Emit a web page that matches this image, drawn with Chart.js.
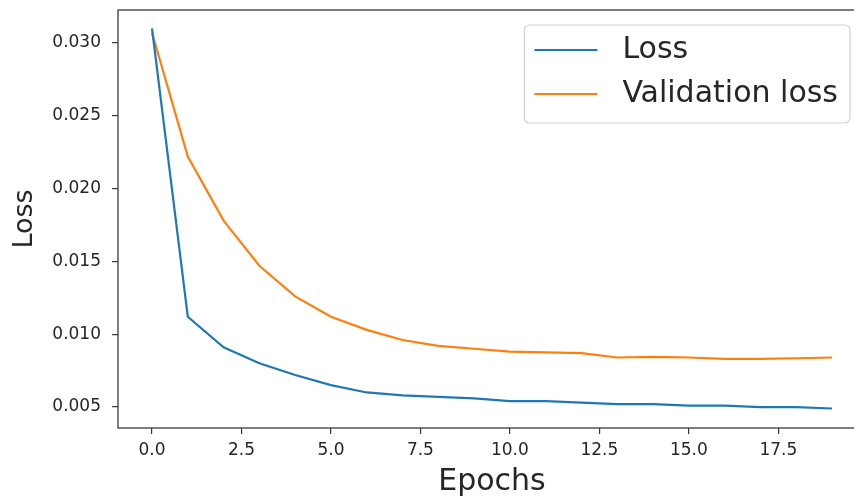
<!DOCTYPE html>
<html lang="en">
<head>
    <meta charset="UTF-8">
    <title>Loss vs validation loss</title>
    <script src="https://cdn.jsdelivr.net/npm/chart.js"></script>
    <style>
        html, body {
            margin: 0;
            padding: 0;
            overflow: hidden;
            background: #ffffff;
        }
        .plot-wrap {
            width: 854px;
            height: 497px;
            overflow: hidden;
        }
        #lossChart {
            display: block;
        }
    </style>
</head>
<body>
    <div class="plot-wrap">
        <canvas id="lossChart" width="880" height="497"></canvas>
    </div>
    <script>
        const epochs = [0, 1, 2, 3, 4, 5, 6, 7, 8, 9, 10, 11, 12, 13, 14, 15, 16, 17, 18, 19];
        const lossValues = [0.0310, 0.0112, 0.0091, 0.0080, 0.0072, 0.0065, 0.0060, 0.0058, 0.0057, 0.0056,
                            0.0054, 0.0054, 0.0053, 0.0052, 0.0052, 0.0051, 0.0051, 0.0050, 0.0050, 0.0049];
        const valLossValues = [0.0307, 0.0222, 0.0178, 0.0147, 0.0126, 0.0112, 0.0103, 0.0096, 0.0092, 0.0090,
                               0.0088, 0.00875, 0.0087, 0.0084, 0.00845, 0.0084, 0.0083, 0.0083, 0.00835, 0.0084];
        const xTicks = [0, 2.5, 5, 7.5, 10, 12.5, 15, 17.5];
        const yTicks = [0.005, 0.010, 0.015, 0.020, 0.025, 0.030];

        const textColor = '#262626';
        const spineColor = '#3a3a3a';
        const font = '"DejaVu Sans", sans-serif';

        // legend box in the upper right corner of the plot
        const boxLegend = {
            id: 'boxLegend',
            afterDatasetsDraw(chart) {
                const {ctx, chartArea} = chart;
                const rows = chart.data.datasets.map(ds => ({label: ds.label, color: ds.borderColor}));
                ctx.save();
                ctx.font = '30px ' + font;
                const textW = Math.max(...rows.map(r => ctx.measureText(r.label).width));
                const pad = 10, handle = 63, gap = 25, rowH = 44;
                const w = pad + handle + gap + textW + 12;
                const h = rows.length * rowH + 10;
                const right = chartArea.right - 16;
                const left = right - w;
                const top = chartArea.top + 15;

                ctx.fillStyle = 'rgba(255,255,255,0.8)';
                ctx.strokeStyle = '#d2d2d2';
                ctx.lineWidth = 1.2;
                ctx.beginPath();
                ctx.roundRect(left, top, w, h, 5);
                ctx.fill();
                ctx.stroke();

                rows.forEach((r, i) => {
                    const y = top + 25 + i * rowH;
                    ctx.strokeStyle = r.color;
                    ctx.lineWidth = 2.2;
                    ctx.beginPath();
                    ctx.moveTo(left + pad, y);
                    ctx.lineTo(left + pad + handle, y);
                    ctx.stroke();
                    ctx.fillStyle = textColor;
                    ctx.textBaseline = 'middle';
                    ctx.textAlign = 'left';
                    ctx.fillText(r.label, left + pad + handle + gap, y);
                });
                ctx.restore();
            }
        };

        // frame around the plot area
        const frame = {
            id: 'frame',
            afterDraw(chart) {
                const {ctx, chartArea} = chart;
                ctx.save();
                ctx.strokeStyle = spineColor;
                ctx.lineWidth = 1.3;
                ctx.strokeRect(chartArea.left, chartArea.top,
                    chartArea.right - chartArea.left, chartArea.bottom - chartArea.top);
                ctx.restore();
            }
        };

        new Chart(document.getElementById('lossChart'), {
            type: 'line',
            data: {
                datasets: [
                    {
                        label: 'Loss',
                        data: epochs.map((e, i) => ({x: e, y: lossValues[i]})),
                        borderColor: '#1f77b4',
                        borderWidth: 2.2,
                        pointRadius: 0,
                        tension: 0
                    },
                    {
                        label: 'Validation loss',
                        data: epochs.map((e, i) => ({x: e, y: valLossValues[i]})),
                        borderColor: '#ff7f0e',
                        borderWidth: 2.2,
                        pointRadius: 0,
                        tension: 0
                    }
                ]
            },
            options: {
                responsive: false,
                animation: false,
                layout: {padding: {top: 10, right: 14, bottom: 0, left: 0}},
                plugins: {
                    legend: {display: false},
                    tooltip: {enabled: false}
                },
                scales: {
                    x: {
                        type: 'linear',
                        min: -0.95,
                        max: 19.95,
                        afterBuildTicks: s => { s.ticks = xTicks.map(v => ({value: v})); },
                        afterFit: s => {
                            s.height = 69;
                            s.paddingLeft = 0;
                            s.paddingRight = 0;
                        },
                        ticks: {
                            color: textColor,
                            font: {family: font, size: 17},
                            padding: 6,
                            maxRotation: 0,
                            callback: v => v.toFixed(1)
                        },
                        grid: {drawOnChartArea: false, drawTicks: true, tickLength: 6, color: spineColor, lineWidth: 1.2},
                        border: {display: false},
                        title: {
                            display: true,
                            text: 'Epochs',
                            color: textColor,
                            font: {family: font, size: 30, lineHeight: 1},
                            padding: 0
                        }
                    },
                    y: {
                        min: 0.00356,
                        max: 0.03226,
                        afterBuildTicks: s => { s.ticks = yTicks.map(v => ({value: v})); },
                        afterFit: s => {
                            s.width = 118;
                            s.paddingTop = 0;
                            s.paddingBottom = 0;
                        },
                        ticks: {
                            color: textColor,
                            font: {family: font, size: 17},
                            padding: 11,
                            callback: v => v.toFixed(3)
                        },
                        grid: {drawOnChartArea: false, drawTicks: true, tickLength: 6, color: spineColor, lineWidth: 1.2},
                        border: {display: false},
                        title: {
                            display: true,
                            text: 'Loss',
                            color: textColor,
                            font: {family: font, size: 27, lineHeight: 1},
                            padding: {top: 11, bottom: 0}
                        }
                    }
                }
            },
            plugins: [boxLegend, frame]
        });
    </script>
</body>
</html>
